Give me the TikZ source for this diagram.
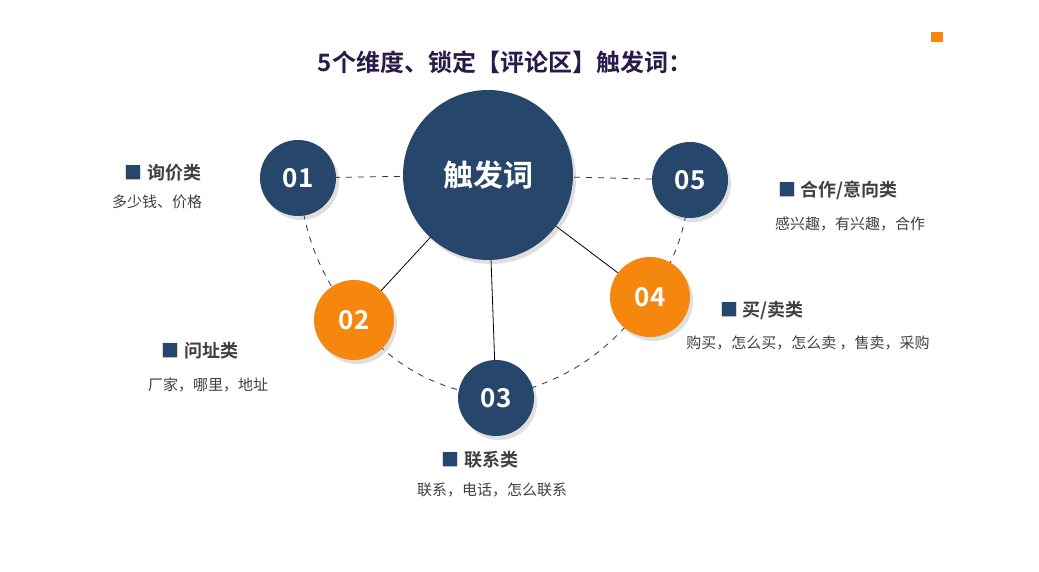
\documentclass[tikz,border=0pt]{standalone}
\usepackage{fontspec}
\setmainfont{Noto Sans CJK SC}
\newfontfamily\cjkb{Noto Sans CJK SC Bold}
\usetikzlibrary{shadows}
\definecolor{navy}{HTML}{27466B}
\definecolor{org}{HTML}{F5870F}
\definecolor{ttl}{HTML}{2A1A4A}
\definecolor{lbl}{HTML}{404040}
\tikzset{
 ball/.style={circle,fill=navy,text=white,font=\cjkb\fontsize{13}{13}\selectfont,minimum size=38pt,inner sep=0pt,drop shadow={opacity=0.25,shadow xshift=1.5pt,shadow yshift=-2pt}},
 oball/.style={ball,fill=org,minimum size=40pt},
 dl/.style={dashed,thin,black!80},
 sl/.style={thin,black},
 head/.style={font=\cjkb\fontsize{9}{9}\selectfont,text=lbl},
 sub/.style={font=\fontsize{7.5}{8}\selectfont,text=lbl}
}
\begin{document}
\begin{tikzpicture}[x=0.5pt,y=-0.5pt]
\useasboundingbox (0,0) rectangle (1039,572);
\fill[white] (0,0) rectangle (1039,572);
\fill[org] (931,32) rectangle (943,42);
\node[font=\cjkb\fontsize{12}{12}\selectfont,text=ttl] (title) at (505,62) {5个维度、锁定【评论区】触发词：};
\coordinate (pc) at (488,175);
\coordinate (p1) at (298,178);
\coordinate (p5) at (690,180);
\coordinate (p2) at (354,320);
\coordinate (p4) at (650,297);
\coordinate (p3) at (496,398);
\draw[dl] (p1) -- (pc) -- (p5);
\draw[dl] (p1) to[bend right=15] (p2);
\draw[dl] (p2) to[bend right=20] (p3);
\draw[dl] (p3) to[bend right=20] (p4);
\draw[dl] (p4) to[bend right=15] (p5);
\draw[sl] (pc) -- (p2); \draw[sl] (pc) -- (p3); \draw[sl] (pc) -- (p4);
\node[ball,minimum size=85pt,font=\cjkb\fontsize{15}{15}\selectfont] (c) at (pc) {触发词};
\node[ball] (n1) at (p1) {01};
\node[ball] (n5) at (p5) {05};
\node[oball] (n2) at (p2) {02};
\node[oball] (n4) at (p4) {04};
\node[ball] (n3) at (p3) {03};
\node[head] (h1) at (163,173) {\textcolor{navy}{■}\ 询价类};
\node[sub] (s1) at (157,202) {多少钱、价格};
\node[head] (h5) at (838,190) {\textcolor{navy}{■}\ 合作/意向类};
\node[sub] (s5) at (850,224) {感兴趣，有兴趣，合作};
\node[head] (h4) at (762,310) {\textcolor{navy}{■}\ 买/卖类};
\node[sub] (s4) at (808,343) {购买，怎么买，怎么卖 ，售卖，采购};
\node[head] (h2) at (200,351) {\textcolor{navy}{■}\ 问址类};
\node[sub] (s2) at (208,385) {厂家，哪里，地址};
\node[head] (h3) at (480,460) {\textcolor{navy}{■}\ 联系类};
\node[sub] (s3) at (492,490) {联系，电话，怎么联系};
\end{tikzpicture}
\end{document}
